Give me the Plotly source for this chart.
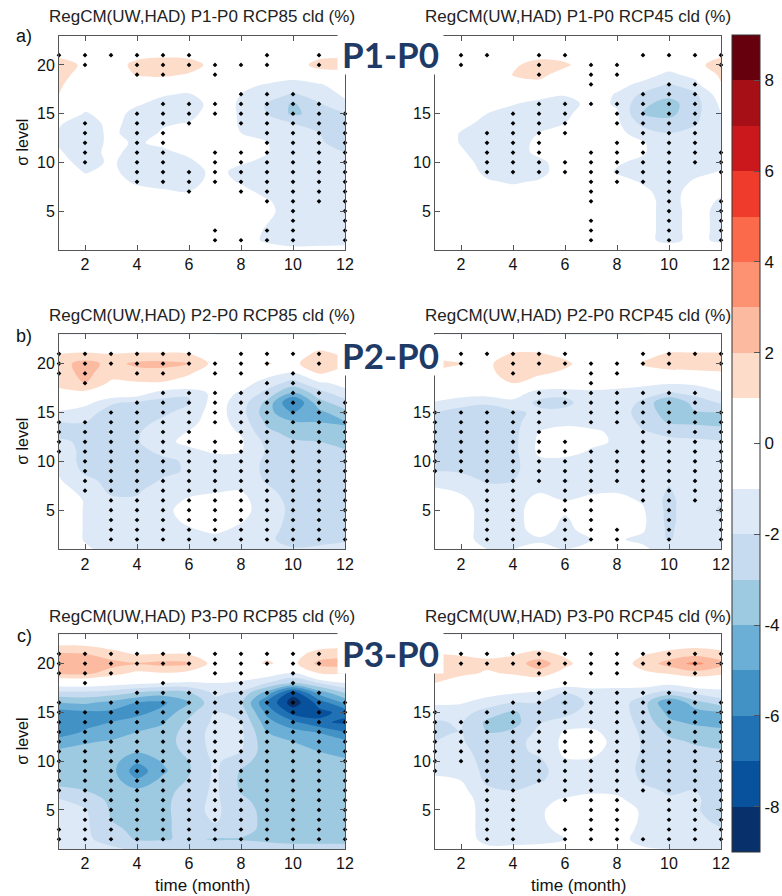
import plotly.graph_objects as go

FONT = "Liberation Sans, Arial, sans-serif"

MONTHS = list(range(1, 13))
SIGMA = list(range(1, 24))          # sigma levels 1..23 (bottom -> top)
TICK_X = [2, 4, 6, 8, 10, 12]
TICK_Y = [5, 10, 15, 20]
TICK_Y_TEXT_LEFT = ["5", "10", "15", "20"]
TICK_Y_TEXT_RIGHT = ["5", "10", "15", ""]   # the "20" label is hidden behind the period tag
CBAR_TICKS = [-8, -6, -4, -2, 0, 2, 4, 6, 8]
CBAR_TEXT = ["-8", "-6", "-4", "-2", "0", "2", "4", "6", "8"]

# Cloud fraction change (%). One list per month (Jan..Dec); each list runs from sigma 23 down to sigma 1.
P1_RCP85 = [
    [0,0.3,0.8,1.5,1.5,1.2,1.0,0.5,0.0,-0.9,-1.1,-1.1,-0.9,-0.6,-0.4,-0.2,-0.1,0,0,0,0,0,0],
    [0,0.1,0.3,0.8,0.4,0.1,-0.2,-0.6,-1.1,-1.5,-1.5,-1.5,-1.5,-1.4,-1.05,-0.7,-0.3,-0.1,0,0,0,0,0],
    [0,0,0.2,0.3,0.2,0.0,-0.2,-0.4,-0.6,-0.7,-0.8,-0.8,-0.7,-0.85,-0.8,-0.5,-0.3,-0.1,0,0,0,0,0],
    [0,0.2,0.6,1.4,1.1,0.2,-0.3,-0.9,-1.3,-1.4,-1.4,-1.1,-1.4,-1.5,-1.4,-1.2,-0.6,-0.2,-0.1,0,0,0,0],
    [0,0.3,0.8,1.6,1.2,0.3,-0.9,-1.3,-1.4,-1.1,-0.9,-0.8,-1.2,-1.5,-1.5,-1.3,-0.9,-0.3,-0.1,0,0,0,0],
    [0,0.2,0.7,1.5,0.9,0.1,-1.1,-1.5,-1.3,-0.95,-0.7,-0.5,-0.8,-1.2,-1.5,-1.4,-1.0,-0.3,-0.1,0,0,0,0],
    [0,0,0.2,0.6,0.3,0.0,-0.3,-0.6,-0.5,-0.4,-0.3,-0.3,-0.4,-0.5,-0.7,-0.6,-0.4,-0.2,-0.1,-0.1,-0.2,-0.2,-0.1],
    [0,0,0.1,0.3,0.0,-0.6,-1.0,-1.1,-1.1,-1.1,-1.0,-0.6,-0.5,-0.9,-1.3,-1.1,-0.7,-0.4,-0.3,-0.4,-0.5,-0.6,-0.3],
    [0,0.1,0.5,1.05,0.2,-1.1,-1.5,-2.1,-2.0,-1.7,-1.4,-0.95,-0.95,-1.2,-1.4,-1.3,-1.3,-0.9,-0.8,-0.95,-1.1,-1.15,-0.6],
    [0,0,0.2,0.4,-0.5,-1.4,-2.1,-3.15,-3.2,-2.0,-1.8,-1.7,-1.6,-1.5,-1.5,-1.5,-1.5,-1.5,-1.4,-1.4,-1.5,-1.5,-0.7],
    [0,0.2,0.7,1.4,0.4,-1.1,-1.6,-2.1,-2.6,-2.4,-2.0,-1.9,-1.7,-1.6,-1.5,-1.4,-1.4,-1.4,-1.3,-1.3,-1.3,-1.4,-0.7],
    [0,0.3,0.8,1.5,0.5,-0.5,-0.8,-1.2,-2.05,-2.3,-2.4,-2.3,-2.0,-1.7,-1.5,-1.4,-1.3,-1.3,-1.3,-1.3,-1.3,-1.3,-0.7],
]
P1_RCP45 = [
    [0,0,0.2,0.4,0.2,0,0,-0.2,-0.3,-0.4,-0.5,-0.5,-0.4,-0.3,-0.2,-0.1,0,0,0,0,0,0,0],
    [0,0,0.2,0.3,0.1,0,-0.1,-0.3,-0.6,-0.8,-1.05,-1.05,-0.9,-0.7,-0.5,-0.3,-0.1,0,0,0,0,0,0],
    [0,0,0.3,0.4,0.3,0.1,-0.2,-0.7,-1.0,-1.2,-1.3,-1.4,-1.4,-1.3,-1.2,-0.9,-0.5,-0.2,0,0,0,0,0],
    [0,0.1,0.4,0.8,1.05,0.5,-0.3,-0.95,-1.3,-1.4,-1.4,-1.4,-1.4,-1.4,-1.4,-1.1,-0.7,-0.3,0,0,0,0,0],
    [0,0.2,0.6,1.5,1.3,0.7,-0.6,-1.3,-1.3,-1.2,-1.0,-0.8,-0.8,-1.2,-1.3,-0.9,-0.5,-0.2,0,0,0,0,0],
    [0,0.2,0.5,1.2,0.5,0.1,-0.9,-1.4,-1.2,-1.0,-0.8,-0.5,-0.4,-0.6,-0.5,-0.3,-0.1,0,0,0,0,0,0],
    [0,0,0.1,0.3,0.1,-0.1,-0.4,-0.7,-0.5,-0.4,-0.4,-0.4,-0.4,-0.4,-0.4,-0.3,-0.3,-0.3,-0.2,-0.2,-0.2,-0.2,0],
    [0,0,0,0,-0.2,-0.6,-1.1,-1.1,-0.9,-0.8,-0.7,-0.5,-0.6,-0.9,-1.1,-0.6,-0.4,-0.3,-0.3,-0.3,-0.3,-0.3,0],
    [0,0,0,-0.1,-0.5,-1.3,-2.2,-2.8,-3.05,-2.3,-1.5,-0.9,-0.9,-1.2,-1.3,-1.1,-0.8,-0.6,-0.6,-0.6,-0.6,-0.6,-0.3],
    [0,0,0,-0.4,-1.3,-2.1,-2.7,-3.4,-3.3,-2.6,-2.0,-1.8,-1.7,-1.6,-1.5,-1.4,-1.4,-1.4,-1.4,-1.4,-1.4,-1.4,0],
    [0,0.1,0.2,0.6,-0.6,-1.4,-2.2,-2.4,-2.3,-2.1,-1.7,-1.5,-1.4,-1.3,-1.2,-0.9,-0.6,-0.5,-0.6,-0.6,-0.6,-0.6,0],
    [0,0.3,0.8,1.6,1.3,0.9,-0.4,-0.8,-1.0,-1.2,-1.3,-1.3,-1.2,-1.2,-0.95,-0.6,-0.8,-1.15,-1.3,-1.3,-1.3,-1.3,0],
]
P2_RCP85 = [
    [0,0.3,1.0,1.6,1.5,1.2,0.8,-0.4,-1.1,-2.0,-2.2,-1.9,-1.6,-1.4,-1.1,-0.9,-0.6,-0.5,-0.5,-0.5,-0.5,-0.5,-0.4],
    [0,0.4,1.1,2.4,2.3,2.0,0.7,-0.6,-1.7,-2.0,-2.2,-2.1,-2.2,-2.3,-2.2,-1.7,-1.3,-1.05,-1.05,-1.05,-1.05,-1.05,-0.9],
    [0,0.3,1.0,1.7,1.4,0.8,0.0,-1.9,-2.3,-2.5,-2.5,-2.5,-2.5,-2.5,-2.5,-2.3,-2.2,-1.8,-1.5,-1.5,-1.5,-1.5,-1.2],
    [0,0.3,1.1,2.2,1.6,0.9,-0.3,-2.2,-2.4,-2.3,-2.1,-2.1,-2.4,-2.4,-2.4,-2.4,-2.1,-1.9,-1.5,-1.5,-1.5,-1.5,-1.2],
    [0,0.3,1.1,2.3,1.6,0.9,-1.6,-2.3,-2.2,-1.8,-1.5,-1.2,-1.7,-2.3,-2.2,-1.9,-1.6,-1.3,-1.2,-1.3,-1.3,-1.3,-1.1],
    [0,0.3,1.0,2.1,1.1,0.5,-1.9,-2.1,-1.6,-1.3,-0.95,-0.8,-1.2,-1.8,-1.9,-1.5,-1.2,-0.9,-0.7,-0.8,-1.1,-1.3,-1.1],
    [0,0.1,0.4,0.6,0.2,-0.3,-0.6,-0.5,-0.5,-0.5,-0.5,-0.5,-0.9,-1.3,-1.4,-1.3,-1.1,-0.7,-0.5,-0.5,-0.8,-1.3,-1.1],
    [0,0,0.2,0.3,0,-0.5,-1.1,-1.5,-1.6,-1.4,-1.1,-0.85,-1.0,-1.4,-1.5,-1.4,-1.0,-0.8,-0.8,-0.9,-1.2,-1.4,-1.2],
    [0,0,0.4,1.1,-0.6,-1.5,-2.3,-3.3,-3.6,-3.2,-2.8,-2.3,-2.1,-2.2,-2.2,-2.1,-1.8,-1.4,-1.3,-1.5,-1.7,-1.8,-1.5],
    [0,0,0.3,0.6,-1.2,-2.4,-4.2,-6.2,-5.0,-3.9,-3.3,-2.9,-2.7,-2.6,-2.5,-2.5,-2.4,-2.4,-2.3,-2.3,-2.3,-2.4,-1.9],
    [0,0.4,1.3,2.1,1.1,-1.3,-2.4,-3.4,-4.3,-4.0,-3.5,-3.0,-2.7,-2.5,-2.3,-2.3,-2.2,-2.2,-2.2,-2.2,-2.2,-2.3,-1.8],
    [0,0.3,0.8,1.2,0.5,-0.6,-1.4,-2.4,-3.3,-4.1,-3.8,-3.3,-2.9,-2.5,-2.3,-2.2,-2.1,-2.1,-2.1,-2.1,-2.1,-2.1,-1.7],
]
P2_RCP45 = [
    [0,0.2,0.6,1.3,0.8,0.3,-0.3,-1.1,-2.0,-2.3,-2.4,-2.4,-2.3,-2.2,-2.0,-1.4,-0.8,-0.5,-0.4,-0.4,-0.4,-0.4,-0.3],
    [0,0.2,0.5,1.05,0.5,0.2,-0.4,-1.7,-2.3,-2.5,-2.5,-2.5,-2.5,-2.4,-2.1,-1.6,-1.1,-0.8,-0.7,-0.7,-0.7,-0.7,-0.5],
    [0,0.1,0.4,0.8,0.7,0.2,-0.5,-1.9,-2.4,-2.5,-2.5,-2.5,-2.5,-2.5,-2.4,-2.1,-1.7,-1.4,-1.3,-1.3,-1.3,-1.3,-1.0],
    [0,0.3,1.1,1.6,1.5,1.0,-0.3,-1.4,-2.2,-2.3,-2.3,-2.3,-2.3,-2.3,-2.2,-2.0,-1.6,-1.4,-1.3,-1.3,-1.3,-1.3,-1.0],
    [0,0.3,1.1,1.5,1.2,0.3,-1.6,-2.2,-1.8,-1.4,-1.0,-0.8,-0.8,-1.2,-1.4,-1.3,-1.1,-0.7,-0.6,-0.6,-0.7,-1.1,-0.8],
    [0,0.2,0.6,1.3,0.7,0.1,-1.7,-2.3,-1.7,-1.2,-0.7,-0.6,-0.6,-1.3,-1.6,-2.1,-1.5,-1.0,-0.9,-1.1,-1.2,-1.3,-1.0],
    [0,0,0.1,0.2,-0.1,-0.5,-1.2,-1.4,-1.3,-1.2,-0.9,-0.8,-1.1,-1.4,-1.5,-1.5,-1.2,-0.7,-0.6,-0.6,-0.7,-1.0,-0.8],
    [0,0,0.1,0.3,0,-0.6,-1.3,-1.4,-1.4,-1.2,-1.1,-1.1,-1.3,-1.5,-1.5,-1.4,-1.1,-0.7,-0.6,-0.6,-0.6,-0.9,-0.6],
    [0,0.2,0.6,1.1,0.6,-0.7,-1.6,-2.2,-2.5,-2.3,-1.9,-1.6,-1.5,-1.5,-1.6,-1.5,-1.3,-1.1,-0.9,-0.8,-0.9,-1.2,-0.8],
    [0,0.3,1.1,1.3,0.8,-0.9,-2.1,-4.1,-3.4,-3.1,-2.3,-1.7,-1.6,-1.6,-1.7,-1.9,-2.1,-2.3,-2.3,-2.3,-2.2,-2.1,-1.5],
    [0,0.3,1.1,1.4,0.8,-0.8,-1.7,-2.6,-3.1,-3.2,-2.4,-1.8,-1.6,-1.5,-1.5,-1.4,-1.3,-1.2,-1.2,-1.2,-1.2,-1.3,-1.0],
    [0,0.3,1.1,1.4,0.9,-0.4,-1.1,-1.9,-3.1,-3.3,-2.6,-1.9,-1.6,-1.5,-1.5,-1.4,-1.4,-1.8,-2.2,-1.8,-1.5,-1.4,-1.0],
]
P3_RCP85 = [
    [0,0.8,2.1,2.6,2.2,-0.3,-2.3,-4.0,-5.4,-5.6,-5.5,-4.6,-3.8,-3.6,-3.5,-3.3,-2.8,-1.9,-1.7,-1.7,-1.7,-1.7,-1.5],
    [0,0.8,2.0,2.6,2.3,-0.2,-2.3,-3.8,-5.2,-5.3,-4.9,-4.1,-3.7,-3.6,-3.5,-3.3,-3.0,-2.4,-1.9,-1.8,-1.8,-1.8,-1.5],
    [0,0.5,1.4,2.4,1.5,-0.5,-2.5,-4.3,-5.2,-5.0,-4.5,-3.9,-3.7,-3.6,-3.6,-3.5,-3.4,-3.2,-3.1,-3.0,-2.8,-2.4,-1.8],
    [0,0.3,0.9,2.1,0.7,-0.8,-3.1,-5.0,-5.3,-4.6,-4.0,-3.7,-3.9,-4.8,-5.6,-4.8,-3.8,-3.4,-3.3,-3.3,-3.2,-3.1,-2.2],
    [0,0.3,1.0,2.3,0.9,-1.0,-3.5,-5.2,-4.7,-4.1,-3.7,-3.5,-3.6,-3.9,-4.2,-3.7,-3.4,-3.3,-3.3,-3.3,-3.2,-3.1,-2.2],
    [0,0.3,0.9,2.2,0.6,-1.2,-3.1,-4.0,-3.3,-2.8,-2.5,-2.5,-2.7,-3.0,-3.1,-2.9,-2.6,-2.4,-2.3,-2.4,-2.6,-2.8,-2.0],
    [0,0.1,0.3,0.5,-0.2,-1.0,-1.8,-2.3,-2.0,-1.8,-1.7,-1.7,-1.7,-1.8,-1.8,-1.8,-1.8,-1.8,-1.8,-1.9,-2.2,-3.1,-2.0],
    [0,0.1,0.4,0.6,-0.3,-1.2,-2.2,-2.8,-2.4,-2.0,-1.8,-1.8,-2.0,-2.6,-3.1,-3.2,-3.1,-2.8,-2.6,-2.5,-2.6,-3.1,-2.0],
    [0,0.2,0.8,1.1,-0.4,-2.0,-4.4,-6.0,-5.3,-4.6,-4.0,-3.7,-3.6,-3.6,-3.6,-3.6,-3.5,-3.4,-3.3,-3.3,-3.3,-3.3,-2.3],
    [0,0.2,0.6,0.7,-1.2,-3.0,-7.6,-8.6,-7.4,-5.8,-4.6,-4.0,-3.8,-3.7,-3.7,-3.7,-3.6,-3.6,-3.6,-3.6,-3.6,-3.5,-2.4],
    [0,0.5,1.4,2.3,1.0,-2.0,-4.6,-6.6,-7.3,-6.8,-5.1,-4.3,-4.0,-3.8,-3.7,-3.6,-3.6,-3.6,-3.5,-3.5,-3.5,-3.5,-2.4],
    [0,0.6,1.6,2.5,1.0,-1.0,-3.0,-4.8,-6.7,-7.2,-6.0,-4.8,-4.2,-3.9,-3.8,-3.7,-3.6,-3.5,-3.5,-3.5,-3.5,-3.5,-2.4],
]
P3_RCP45 = [
    [0,0.3,1.0,1.6,1.5,1.0,0.2,-0.8,-1.6,-2.1,-2.2,-2.0,-1.8,-1.5,-1.2,-0.8,-0.5,-0.4,-0.3,-0.3,-0.3,-0.3,-0.2],
    [0,0.3,0.9,1.4,1.2,0.5,-0.2,-0.9,-1.6,-1.9,-2.0,-1.9,-1.8,-1.6,-1.3,-1.0,-0.7,-0.5,-0.5,-0.5,-0.5,-0.5,-0.3],
    [0,0.3,0.8,1.2,0.9,0.2,-0.6,-1.5,-2.4,-3.2,-3.0,-2.5,-2.3,-2.3,-2.3,-2.2,-1.8,-1.5,-1.4,-1.4,-1.4,-1.3,-0.8],
    [0,0.3,0.9,1.4,1.1,0.2,-0.9,-2.0,-3.2,-3.4,-2.8,-2.4,-2.3,-2.4,-2.4,-2.3,-2.0,-1.6,-1.4,-1.4,-1.4,-1.3,-0.8],
    [0,0.4,1.3,2.6,1.5,0.2,-1.2,-2.0,-2.2,-2.1,-1.8,-1.6,-1.8,-2.2,-2.3,-2.1,-1.5,-1.2,-1.1,-1.1,-1.2,-1.2,-0.8],
    [0,0.3,0.8,1.3,0.6,-0.3,-2.1,-3.2,-2.4,-1.5,-0.9,-0.8,-0.8,-1.1,-1.5,-1.6,-1.3,-0.9,-0.7,-0.7,-0.8,-1.0,-0.6],
    [0,0.1,0.2,0.3,0.0,-0.5,-1.4,-1.6,-1.4,-1.2,-0.9,-0.7,-0.8,-1.1,-1.3,-1.3,-1.1,-0.8,-0.6,-0.6,-0.6,-0.7,-0.5],
    [0,0.1,0.2,0.4,0.0,-0.6,-1.4,-1.5,-1.4,-1.3,-1.2,-1.2,-1.3,-1.4,-1.5,-1.4,-1.2,-0.8,-0.6,-0.6,-0.6,-0.7,-0.5],
    [0,0.3,0.9,1.4,0.8,-0.4,-1.7,-2.5,-2.6,-2.4,-2.2,-2.1,-2.1,-2.2,-2.2,-2.1,-1.8,-1.4,-1.1,-1.1,-1.2,-1.3,-0.9],
    [0,0.5,1.3,2.4,1.1,-0.7,-2.4,-5.1,-4.3,-3.8,-3.2,-2.8,-2.6,-2.5,-2.4,-2.3,-2.1,-1.9,-1.6,-1.5,-1.5,-1.5,-1.0],
    [0,0.6,1.6,3.3,1.6,-0.2,-1.8,-3.4,-4.4,-4.2,-3.5,-3.1,-2.8,-2.6,-2.5,-2.3,-2.0,-1.8,-1.7,-1.6,-1.6,-1.6,-1.0],
    [0,0.5,1.3,2.4,1.2,-0.2,-1.4,-2.5,-4.1,-4.3,-3.8,-3.3,-2.9,-2.7,-2.5,-2.3,-2.2,-2.6,-3.2,-2.4,-1.9,-1.7,-1.0],
]

# Stippled (significant) sigma levels, one list per month (Jan..Dec)
SIG_P1_RCP85 = [
    [21], [21,20,14,13,12,11,10], [21],
    [21,20,19,15,14,13,12,11,10,9,8],
    [21,20,19,16,15,14,13,12,11,10,9,8],
    [21,20,16,15,14,9,8,7],
    [20,19,16,15,11,10,9,8,3,2],
    [20,17,16,15,14,11,10,9,8,7,2],
    [21,20,17,16,15,14,13,12,11,10,9,8,7,6,3,2],
    [17,16,15,14,13,12,11,10,9,8,7,6,5,4,3,2],
    [21,20,16,15,14,13,12,11,10,9,8,7,6],
    [15,14,13,12,11,10,9,8,7,6,5,4,3,2],
]
SIG_P1_RCP45 = [
    [], [21,20], [21,13,12,11,10,9],
    [15,14,13,12,11,10,9],
    [21,20,19,16,15,14,13,12,11,10,9],
    [21,16,15,14,13,10,9],
    [20,19,18,16,11,10,9,8,7,6,4,3,2],
    [20,19,16,15,14,12,11,10,9,8],
    [21,17,16,15,14,13,12,11,10,9,8],
    [21,18,17,16,15,14,13,12,11,10,9,8,7,6,5,4,3,2],
    [21,18,17,16,15,14,13,12,11,10],
    [21,20,11,10,9,6,5,4,3,2],
]
SIG_P2_RCP85 = [
    [21,20,19,14,13,12,11],
    [21,20,19,18,14,13,12,11,10,9,8,7],
    [21,20,15,14,13,12,11,10,9,8,7,6,5,4,3,2],
    [21,20,19,16,15,14,13,12,11,10,9,8,7,6,5,4,3,2],
    [21,20,19,17,16,15,14,13,12,11,10,9,8,7,6,5,4,3,2],
    [21,20,17,16,15,14,13,12,11,10,9,8,7,6,5,4,3,2],
    [20,19,17,16,15,14,12,11,10,9,8,7,6,5,4,3,2],
    [21,20,19,17,16,15,14,13,12,11,10,9,8,7,6,5,4,3,2],
    [21,20,18,17,16,15,14,13,12,11,10,9,8,7,6,5,4,3,2],
    [21,19,18,17,16,15,14,13,12,11,10,9,8,7,6,5,4,3,2],
    [21,20,17,16,15,14,13,12,11,10,9,8,7,6,5,4,3,2],
    [16,15,14,13,12,11,10,9,8,7,6,5,4,3,2],
]
SIG_P2_RCP45 = [
    [15,14,13,12,11,10,9],
    [21,20,15,14,13,12,11,10,9],
    [21,15,14,13,12,11,10,9,8,7,6,5,4,3,2],
    [21,20,19,15,14,13,12,11,10,9,8,7,6,5,4,3,2],
    [21,20,17,16,15,14,13,12,11,10,9,8],
    [21,20,17,16,12,11,10,9,8,7,6,5,4,3,2],
    [20,19,18,17,16,15,14,11,10,9,8,7,6,5,4,3,2],
    [20,19,17,16,15,14,11,10,9,8,3,2],
    [21,20,17,16,15,14,13,12,11,10,9,8,7,6],
    [21,20,17,16,15,14,13,12,11,10,9,8,7,6,5,4,3,2],
    [21,17,16,15,14,13,12,11,10,9,8,7,6],
    [21,20,15,14,13,12,11,10,9,8,7,6,5,4,3,2],
]
SIG_P3_RCP85 = [
    [21,20,19,16,15,14,13,12,11,10,9,8,7,3,2],
    [21,20,19,18,15,14,13,12,11,10,9,8,7,6,5,4,3,2],
    [21,20,19,16,15,14,13,12,11,10,9,8,7,6,5,4,3,2],
    [21,20,17,16,15,14,13,12,11,10,9,8,7,6,5,4,3,2],
    [21,20,18,17,16,15,14,13,12,11,10,9,8,7,6,5,4,3,2],
    [21,20,17,16,15,14,13,12,11,10,9,8,7,6,5,4,3,2],
    [21,20,19,17,16,15,14,13,12,11,10,9,8,7,6,5,4,3,2],
    [21,20,19,18,17,16,15,14,13,12,11,10,9,8,7,6,5,4,3,2],
    [21,20,17,16,15,14,13,12,11,10,9,8,7,6,5,4,3,2],
    [21,20,19,18,17,16,15,14,13,12,11,10,9,8,7,6,5,4,3,2],
    [21,20,17,16,15,14,13,12,11,10,9,8,7,6,5,4,3,2],
    [16,15,14,13,12,11,10,9,8,7,6,5,4,3,2],
]
SIG_P3_RCP45 = [
    [15,14,13,12,11,10,9],
    [21,20,14,13,12,11,10],
    [21,20,15,14,13,12,11,10,9,8,7,6,5,4,3,2],
    [21,20,16,15,14,13,12,11,10,9,8,7,6,5,4,3,2],
    [21,20,19,17,16,15,14,13,12,11,10,9,8],
    [21,20,18,17,16,15,14,13,12,11,10,9,8,7,6,3,2],
    [21,20,19,17,16,15,14,13,12,11,10,9,8,7,6,5,4,3,2],
    [21,20,19,17,16,15,14,13,12,11,10,9,8,7,6,5,4,3,2],
    [21,20,17,16,15,14,13,12,11,10,9,8,7,2],
    [21,20,17,16,15,14,13,12,11,10,9,8,7,6,5,4,3,2],
    [21,20,19,17,16,15,14,13,12,11,10,9,8,7,6,5,4,3,2],
    [21,20,16,15,14,13,12,11,10,9,8,7,6,5,4,3,2],
]

TITLES = [
    "RegCM(UW,HAD) P1-P0 RCP85 cld (%)", "RegCM(UW,HAD) P1-P0 RCP45 cld (%)",
    "RegCM(UW,HAD) P2-P0 RCP85 cld (%)", "RegCM(UW,HAD) P2-P0 RCP45 cld (%)",
    "RegCM(UW,HAD) P3-P0 RCP85 cld (%)", "RegCM(UW,HAD) P3-P0 RCP45 cld (%)",
]
ROW_LETTERS = ["a)", "b)", "c)"]
ROW_LABELS = ["P1-P0", "P2-P0", "P3-P0"]
Y_TITLE = "σ level"
X_TITLE = "time (month)"

# 18 one-unit colour bands from -9 to 9
BAND_COLORS = ["#08306b", "#08519c", "#2171b5", "#4292c6", "#6baed6", "#9ecae1",
               "#c6dbef", "#dde9f6", "#ffffff", "#ffffff", "#fddcca", "#fcbba1",
               "#fc9272", "#fb6a4a", "#ef3b2c", "#cb181d", "#a50f15", "#67000d"]

# ---------------------------------------------------------------- layout geometry
W, H = 782, 896
def px_x(p): return p / W
def px_y(p): return 1 - p / H

XDOM = [[px_x(59), px_x(345)], [px_x(435), px_x(721)]]
YDOM = [[px_y(250), px_y(35.7)], [px_y(549.3), px_y(334.3)], [px_y(849), px_y(634.3)]]
TITLE_Y = [16, 315, 616]
LABEL_Y = [54, 355, 653]
LETTER_Y = [36, 336, 636]

colorscale = []
n = len(BAND_COLORS)
for i, c in enumerate(BAND_COLORS):
    colorscale.append([i / n, c])
    colorscale.append([(i + 1) / n, c])

def to_grid(cols):
    nlev = len(SIGMA)
    return [[cols[m][nlev - 1 - j] for m in range(len(MONTHS))] for j in range(nlev)]

panels = [P1_RCP85, P1_RCP45, P2_RCP85, P2_RCP45, P3_RCP85, P3_RCP45]
sigs = [SIG_P1_RCP85, SIG_P1_RCP45, SIG_P2_RCP85, SIG_P2_RCP45, SIG_P3_RCP85, SIG_P3_RCP45]

fig = go.Figure()
layout_axes = {}
annotations = []
for k in range(6):
    row, col = divmod(k, 2)
    suffix = "" if k == 0 else str(k + 1)
    xa, ya = "x" + suffix, "y" + suffix
    show = (k == 5)
    fig.add_trace(go.Contour(
        x=MONTHS, y=SIGMA, z=to_grid(panels[k]),
        xaxis=xa, yaxis=ya,
        zmin=-9, zmax=9, autocontour=False,
        contours=dict(start=-9, end=9, size=1, coloring="fill", showlines=False),
        line=dict(width=0),
        colorscale=colorscale,
        showscale=show,
        colorbar=dict(
            x=px_x(732), xanchor="left", y=px_y(443.5), yanchor="middle",
            len=817 / H, lenmode="fraction", thickness=28, thicknessmode="pixels",
            outlinewidth=1, outlinecolor="#333333",
            tickvals=CBAR_TICKS, ticktext=CBAR_TEXT, ticks="inside", ticklen=6,
            tickcolor="#555555",
            tickfont=dict(family=FONT, size=17, color="#111111"),
            xpad=0, ypad=0,
        ) if show else None,
        hoverinfo="skip",
    ))
    xs, ys = [], []
    for mi, levs in enumerate(sigs[k]):
        for s in levs:
            xs.append(MONTHS[mi])
            ys.append(s)
    fig.add_trace(go.Scatter(
        x=xs, y=ys, xaxis=xa, yaxis=ya, mode="markers",
        marker=dict(symbol="diamond", size=3.6, color="black"),
        cliponaxis=False, hoverinfo="skip", showlegend=False,
    ))
    axis_common = dict(showline=True, linecolor="#555555", linewidth=1, mirror="ticks",
                       ticks="inside", ticklen=5, tickcolor="#555555", showgrid=False,
                       zeroline=False, automargin=False,
                       tickfont=dict(family=FONT, size=16, color="#111111"))
    layout_axes["xaxis" + suffix] = dict(domain=XDOM[col], range=[1, 12], anchor=ya,
                                         tickvals=TICK_X, **axis_common)
    layout_axes["yaxis" + suffix] = dict(domain=YDOM[row], range=[1, 23], anchor=xa,
                                         tickvals=TICK_Y,
                                         ticktext=TICK_Y_TEXT_LEFT if col == 0 else TICK_Y_TEXT_RIGHT,
                                         **axis_common)
    annotations.append(dict(text=TITLES[k], x=(XDOM[col][0] + XDOM[col][1]) / 2,
                            y=px_y(TITLE_Y[row]), xref="paper", yref="paper",
                            xanchor="center", yanchor="middle", showarrow=False,
                            font=dict(family=FONT, size=17, color="#222222")))

for row in range(3):
    annotations.append(dict(text=ROW_LETTERS[row], x=px_x(24), y=px_y(LETTER_Y[row]),
                            xref="paper", yref="paper", xanchor="center", yanchor="middle",
                            showarrow=False, font=dict(family=FONT, size=18, color="#111111")))
    ymid = (YDOM[row][0] + YDOM[row][1]) / 2
    annotations.append(dict(text=Y_TITLE, x=px_x(23), y=ymid, textangle=-90,
                            xref="paper", yref="paper", xanchor="center", yanchor="middle",
                            showarrow=False, font=dict(family=FONT, size=16, color="#111111")))
    annotations.append(dict(text="<b>" + ROW_LABELS[row] + "</b>", x=px_x(390.5),
                            y=px_y(LABEL_Y[row]), xref="paper", yref="paper",
                            xanchor="center", yanchor="middle", showarrow=False,
                            width=105, height=40, bgcolor="white", borderpad=0,
                            font=dict(family="Lato, Open Sans, sans-serif", size=35,
                                      color="#1e3a66")))
for col in range(2):
    annotations.append(dict(text=X_TITLE, x=(XDOM[col][0] + XDOM[col][1]) / 2,
                            y=px_y(885), xref="paper", yref="paper",
                            xanchor="center", yanchor="middle", showarrow=False,
                            font=dict(family=FONT, size=17, color="#111111")))

fig.update_layout(
    template="none",
    width=W, height=H, margin=dict(l=0, r=0, t=0, b=0, autoexpand=False),
    paper_bgcolor="white", plot_bgcolor="white", showlegend=False,
    font=dict(family=FONT, color="#111111"),
    annotations=annotations, **layout_axes,
)
fig.write_html("out.html", config={"displayModeBar": False},
               post_script="document.body.style.margin='0px';")
